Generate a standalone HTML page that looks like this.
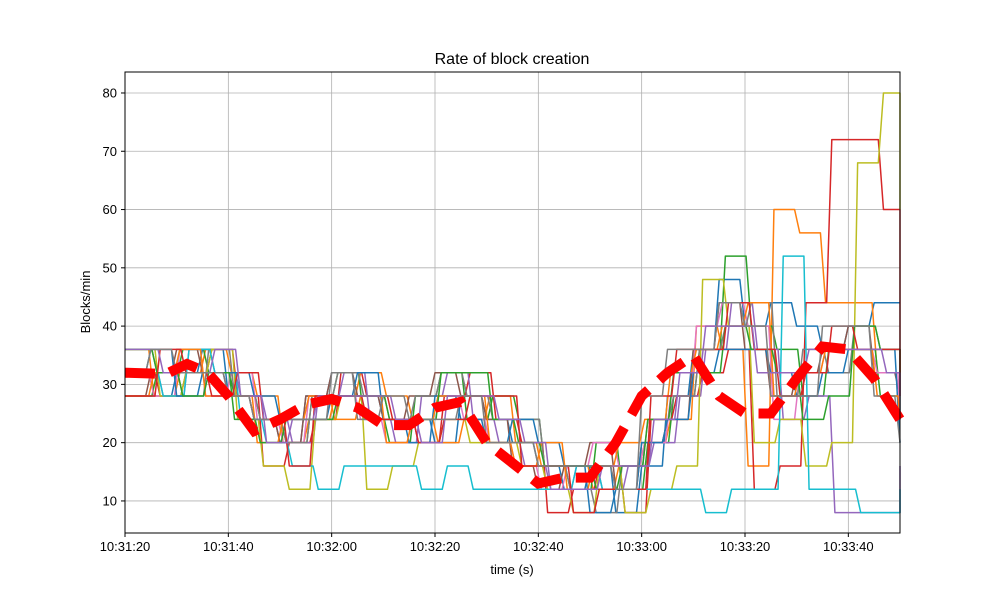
<!DOCTYPE html>
<html><head><meta charset="utf-8"><style>
body{margin:0;background:#fff;font-family:"Liberation Sans",sans-serif}
svg text{font-family:"Liberation Sans",sans-serif;font-size:13px;fill:#000}
</style></head><body>
<svg id="c" width="1000" height="600">
<rect width="1000" height="600" fill="#fff"/>
<text x="512" y="64" text-anchor="middle" style="font-size:16px">Rate of block creation</text>
<g id="grid"></g><g id="series"></g><g id="axes"></g>
<text x="512" y="574" text-anchor="middle">time (s)</text>
<text transform="translate(90,302) rotate(-90)" text-anchor="middle">Blocks/min</text>
</svg>
<script>
const xTickLabels=["10:31:20","10:31:40","10:32:00","10:32:20","10:32:40","10:33:00","10:33:20","10:33:40"];
const xTickSeconds=[0,20,40,60,80,100,120,140];
const yTicks=[10,20,30,40,50,60,70,80];
const sampleTimes=[0,5,10,15,20,25,30,35,40,45,50,55,60,65,70,75,80,85,90,95,100,105,110,115,120,125,130,135,140,145,150];
const sBlue=[28,28,32,36,28,24,20,28,32,28,24,24,20,28,24,20,16,12,16,8,16,28,36,48,40,44,40,36,40,44,44];
const sOrange=[36,28,32,36,32,28,20,24,28,32,28,24,20,24,28,20,16,16,12,16,20,24,40,36,16,60,56,44,44,32,32];
const sGreen=[28,32,36,32,28,24,20,28,32,24,20,28,32,24,28,24,16,12,20,12,20,28,36,52,40,36,28,36,36,28,24];
const sRed=[32,28,32,36,28,16,20,24,32,28,24,20,28,32,24,20,8,12,16,8,24,28,32,36,12,16,44,72,72,60,32];
const sPurple=[32,28,36,32,28,24,20,28,32,24,20,28,32,24,20,16,12,16,12,16,20,28,36,44,36,24,28,8,8,8,16];
const sBrown=[28,32,36,32,28,24,20,28,32,28,24,28,32,28,24,16,12,16,20,12,20,24,36,44,36,28,32,36,40,32,28];
const sPink=[32,28,36,28,32,24,20,28,28,24,20,24,28,24,20,16,12,16,20,16,20,28,40,44,40,24,32,36,36,32,24];
const sGray=[36,32,28,36,28,24,20,28,32,28,24,28,32,28,24,24,16,12,8,16,24,28,36,40,44,28,36,32,40,36,28];
const sOlive=[36,28,32,36,24,16,12,24,28,12,16,20,24,20,20,16,12,8,16,8,12,16,48,40,20,24,16,20,68,80,60];
const sCyan=[32,28,36,32,24,20,16,12,16,16,16,12,16,12,12,12,12,16,12,12,12,12,8,12,12,52,12,12,8,8,12];
const sBlue2=[32,36,28,32,32,28,24,24,28,32,24,20,28,24,20,24,20,16,8,12,20,24,32,36,36,32,28,32,36,36,20];
const sOrange2=[28,32,36,28,28,20,24,28,24,28,20,24,28,28,20,16,20,12,16,20,24,32,36,40,44,28,32,36,36,28,24];
const sGreen2=[36,32,28,32,24,20,24,24,28,28,24,24,32,32,24,20,16,16,12,16,24,32,32,40,36,32,24,28,40,36,28];
const sRed2=[28,36,32,28,32,24,16,28,28,24,24,20,24,28,28,16,16,8,12,12,28,36,36,44,36,28,32,40,36,36,28];
const sPurple2=[36,32,32,36,28,20,24,28,28,28,24,20,28,28,24,20,12,12,16,16,24,32,40,40,32,32,36,36,36,32,24];
const sGray2=[32,36,32,32,28,24,24,24,32,24,28,24,24,28,20,20,16,16,16,12,28,36,36,44,40,28,28,40,40,28,20];
const series=[[sBlue,"#1f77b4","blue"],[sOrange,"#ff7f0e","orange"],[sGreen,"#2ca02c","green"],[sRed,"#d62728","red"],[sPurple,"#9467bd","purple"],[sBrown,"#8c564b","brown"],[sPink,"#e377c2","pink"],[sGray,"#7f7f7f","gray"],[sOlive,"#bcbd22","olive"],[sCyan,"#17becf","cyan"],[sBlue2,"#1f77b4","blue-2"],[sOrange2,"#ff7f0e","orange-2"],[sGreen2,"#2ca02c","green-2"],[sRed2,"#d62728","red-2"],[sPurple2,"#9467bd","purple-2"],[sGray2,"#7f7f7f","gray-2"]];
const meanTimes=[0,8,12,16,20,25,30,35,40,45,50,55,60,65,70,75,80,85,90,95,100,105,110,115,120,125,130,135,140,145,150];
const meanValues=[32,31.8,33.5,32,28,22,24,26.5,27.5,26,23,23,26,27,20,16.5,13,14,14,20,28,32,35,28,25,25,31,36.5,36,31,24];
const X0=125,X1=900,Y0=533,Y1=72,T1=150,YMIN=4.5,YMAX=83.6;
const xs=t=>X0+(t/T1)*(X1-X0);
const ys=v=>Y0-(v-YMIN)/(YMAX-YMIN)*(Y0-Y1);
const NS="http://www.w3.org/2000/svg";
function mk(tag,attrs,parent){const e=document.createElementNS(NS,tag);for(const k in attrs)e.setAttribute(k,attrs[k]);parent.appendChild(e);return e;}
const grid=document.getElementById('grid'),axes=document.getElementById('axes'),sg=document.getElementById('series');
xTickSeconds.forEach((t,i)=>{const x=xs(t);
 const g=mk('line',{x1:x,x2:x,y1:Y1,y2:Y0,stroke:'#b0b0b0','stroke-width':0.8},grid);
 
 
 mk('line',{x1:x,x2:x,y1:Y0,y2:Y0+4,stroke:'#000'},axes);
 const tx=mk('text',{x:x,y:Y0+18,'text-anchor':'middle'},axes);tx.textContent=xTickLabels[i];
 
 });
yTicks.forEach(v=>{const y=ys(v);
 const g=mk('line',{x1:X0,x2:X1,y1:y,y2:y,stroke:'#b0b0b0','stroke-width':0.8},grid);
 
 
 mk('line',{x1:X0-4,x2:X0,y1:y,y2:y,stroke:'#000'},axes);
 const tx=mk('text',{x:X0-8,y:y+4.5,'text-anchor':'end'},axes);tx.textContent=v;
 
 });
const fr=mk('rect',{x:X0,y:Y1,width:X1-X0,height:Y0-Y1,fill:'none',stroke:'#000','stroke-width':1},axes);


series.forEach(([vals,col,name],k)=>{let d='';
 const off=(k%5)*0.6;
 vals.forEach((v,i)=>{const t=Math.min(T1,sampleTimes[i]+(i?off:0));
  d+=(i?'L':'M')+xs(t)+','+ys(v);
  const tn=i<vals.length-1?sampleTimes[i+1]-1+off:sampleTimes[i];
  d+='L'+xs(Math.min(T1,tn))+','+ys(v);});
 const p=mk('path',{d:d,fill:'none',stroke:col,'stroke-width':1.5,'stroke-linejoin':'round'},sg);
 
 });
let md='';meanValues.forEach((v,i)=>{md+=(i?'L':'M')+xs(meanTimes[i])+','+ys(v);});
const mp=mk('path',{d:md,fill:'none',stroke:'#ff0000','stroke-width':10,'stroke-dasharray':'30,15'},sg);


</script>
</body></html>
